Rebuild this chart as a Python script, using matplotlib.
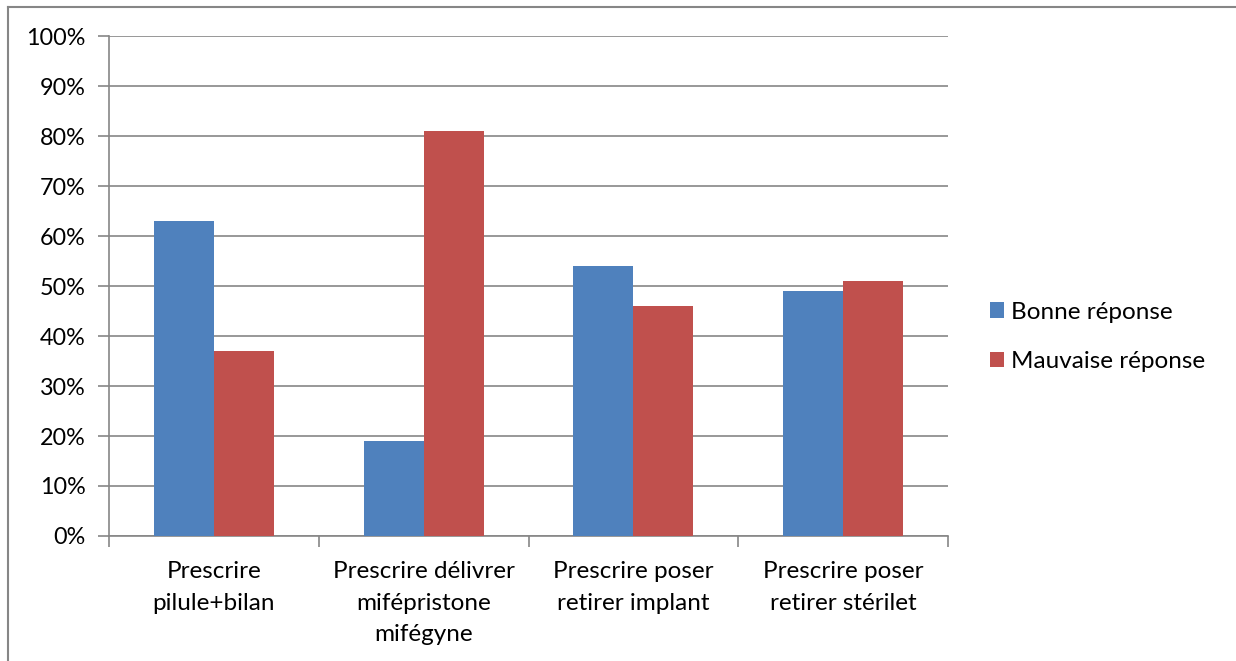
import numpy as np
import matplotlib.pyplot as plt
from matplotlib.lines import Line2D
from matplotlib.ticker import PercentFormatter

plt.rcParams['font.family'] = ['Lato', 'DejaVu Sans']

categories = ['Prescrire\npilule+bilan',
              'Prescrire délivrer\nmifépristone\nmifégyne',
              'Prescrire poser\nretirer implant',
              'Prescrire poser\nretirer stérilet']
bonne = [63, 19, 54, 49]
mauvaise = [37, 81, 46, 51]
series_names = ['Bonne réponse', 'Mauvaise réponse']

BLUE = '#4F81BD'
RED = '#C0504D'
GRID = '#868686'
W, H = 1236, 661

fig = plt.figure(figsize=(W / 100, H / 100), dpi=100)
ax = fig.add_axes([109 / W, 1 - 536 / H, (948 - 109) / W, 500 / H])

# chart frame: only the left and top edges fall inside the image
fig.add_artist(Line2D([7.5 / W, 7.5 / W], [0, 1 - 7 / H], color=GRID,
                      linewidth=1.5, transform=fig.transFigure))
fig.add_artist(Line2D([7.5 / W, 1], [1 - 7 / H, 1 - 7 / H], color=GRID,
                      linewidth=1.5, transform=fig.transFigure))

ind = np.arange(len(categories))
width = 1 / 3.5
ax.bar(ind - width / 2, bonne, width, color=BLUE, label=series_names[0], zorder=3)
ax.bar(ind + width / 2, mauvaise, width, color=RED, label=series_names[1], zorder=3)

ax.set_xlim(-0.5, len(categories) - 0.5)
ax.set_ylim(0, 100)
ax.set_yticks(np.arange(0, 101, 10))
ax.yaxis.set_major_formatter(PercentFormatter(decimals=0))
ax.yaxis.grid(True, color=GRID, linewidth=1.2)
ax.set_axisbelow(True)

ax.set_xticks(np.arange(-0.5, len(categories), 1))
ax.set_xticklabels([])
ax.set_xticks(ind, minor=True)
ax.set_xticklabels(categories, minor=True, fontsize=17.5, linespacing=1.62,
                   va='top')
ax.tick_params(axis='x', which='minor', length=0, pad=18)
ax.tick_params(axis='x', which='major', length=8, color=GRID, width=1.2)
ax.tick_params(axis='y', length=8, color=GRID, width=1.2, labelsize=16.8,
               pad=9)

for side in ['top', 'right']:
    ax.spines[side].set_visible(False)
for side in ['left', 'bottom']:
    ax.spines[side].set_color(GRID)
    ax.spines[side].set_linewidth(1.2)

ax.legend(loc='center left', bbox_to_anchor=(968 / W, 1 - 337 / H),
          bbox_transform=fig.transFigure, frameon=False, fontsize=17.5,
          handlelength=0.6, handleheight=0.6, handletextpad=0.25,
          labelspacing=1.18)

fig.savefig('out.png', dpi=100)
